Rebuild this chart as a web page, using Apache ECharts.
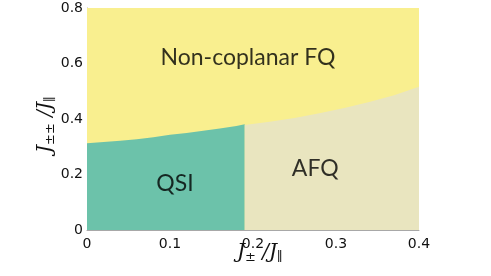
<!DOCTYPE html>
<html><head><meta charset="utf-8">
<script src="https://cdn.jsdelivr.net/npm/echarts@6/dist/echarts.min.js"></script>
<style>html,body{margin:0;padding:0;background:#fff}#c{width:491px;height:276px}</style>
</head><body><div id="c"></div>
<script>
const xTicks = ['0','0.1','0.2','0.3','0.4'];
const yTicks = ['0','0.2','0.4','0.6','0.8'];
// Phase boundary between QSI and non-coplanar FQ (J±, J±±)
const qsiBoundary = [[0,0.313],[0.02,0.317],[0.04,0.322],[0.06,0.327],[0.08,0.334],[0.10,0.343],[0.12,0.350],[0.14,0.358],[0.16,0.366],[0.18,0.375],[0.19,0.381]];
// Phase boundary between AFQ and non-coplanar FQ
const afqBoundary = [[0.19,0.378],[0.22,0.390],[0.25,0.404],[0.28,0.421],[0.31,0.440],[0.34,0.461],[0.37,0.486],[0.40,0.516]];
// Upper edge of the plotted region (non-coplanar FQ fills the rest)
const fqTop = [[0,0.8],[0.4,0.8]];
const regionLabels = [
  {name:'Non-coplanar FQ', x:0.194, y:0.62},
  {name:'QSI', x:0.106, y:0.168},
  {name:'AFQ', x:0.275, y:0.222}
];

const chart = echarts.init(document.getElementById('c'));
const area = (data, color) => ({
  type:'line', data, symbol:'none', silent:true,
  lineStyle:{width:0}, areaStyle:{color, opacity:1, origin:'start'}
});
chart.setOption({
  animation:false,
  grid:{left:87, right:72, top:8, bottom:46},
  xAxis:{type:'value', min:0, max:0.4, interval:0.1,
    axisLine:{lineStyle:{color:'#a8a8a8', width:1}}, axisTick:{show:false}, splitLine:{show:false},
    axisLabel:{margin:7, color:'#111', fontSize:14, fontFamily:'DejaVu Sans',
      formatter:(v)=>xTicks[Math.round(v*10)]}},
  yAxis:{type:'value', min:0, max:0.8, interval:0.2,
    axisLine:{show:true, lineStyle:{color:'#a8a8a8', width:1}}, axisTick:{show:false}, splitLine:{show:false},
    axisLabel:{margin:4, color:'#111', fontSize:14, fontFamily:'DejaVu Sans',
      formatter:(v)=>yTicks[Math.round(v*5)]}},
  series:[
    area(fqTop, '#f9ef8f'),
    area(qsiBoundary, '#6cc2aa'),
    area(afqBoundary, '#e9e5bf'),
    {type:'scatter', symbolSize:1, silent:true, itemStyle:{color:'rgba(0,0,0,0)'}, z:5,
      data: regionLabels.map(r=>({value:[r.x,r.y], name:r.name})),
      label:{show:true, position:'inside', formatter:(p)=>p.name, color:'#000', textBorderWidth:0,
        fontSize:23, fontFamily:'Lato'}}
  ],
  graphic:[
    {type:'text', left:237, top:243, style:{
      text:'{i|J}{s|±}{i| /J}{s|∥}',
      rich:{i:{fontFamily:'DejaVu Serif', fontStyle:'italic', fontSize:20, fill:'#111'},
            s:{fontFamily:'DejaVu Serif', fontSize:13, fill:'#111', padding:[10,0,0,0]}}}},
    {type:'text', x:34, y:153, rotation:Math.PI/2, style:{
      text:'{i|J}{s|±±}{i| /J}{s|∥}',
      rich:{i:{fontFamily:'DejaVu Serif', fontStyle:'italic', fontSize:20, fill:'#111'},
            s:{fontFamily:'DejaVu Serif', fontSize:13, fill:'#111', padding:[10,0,0,0]}}}}
  ]
});
</script></body></html>
